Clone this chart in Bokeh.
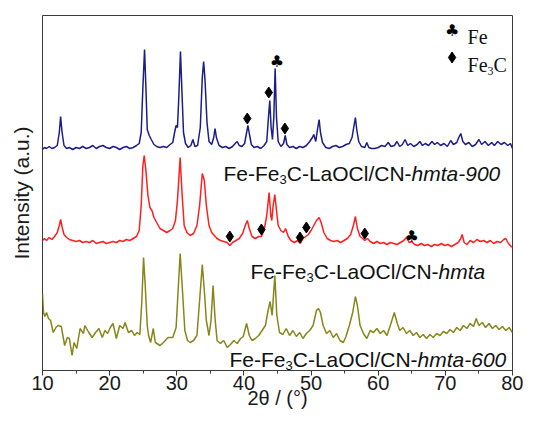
from bokeh.plotting import figure
from bokeh.models import Label, SingleIntervalTicker, FixedTicker, Range1d
from bokeh.core.properties import value
from bokeh.embed import file_html
from bokeh.resources import INLINE

# ---------------- data (2theta, intensity a.u. with vertical stacking offset) ----------------
pattern_900 = [
    (10.0, 228), (10.3, 230), (10.6, 229), (11.0, 231), (11.4, 229), (11.8, 230), (12.2, 232),
    (12.5, 245), (12.7, 261), (12.9, 246), (13.2, 232), (13.6, 229), (14.0, 230), (14.5, 228),
    (15.0, 230), (15.5, 229), (16.0, 231), (16.5, 229), (17.0, 230), (17.5, 232), (18.0, 229),
    (18.5, 231), (19.0, 232), (19.5, 230), (20.0, 229), (20.5, 231), (21.0, 230), (21.5, 228),
    (22.0, 230), (22.5, 231), (23.0, 229), (23.5, 230), (24.0, 232), (24.4, 234), (24.7, 245),
    (24.95, 290), (25.2, 328), (25.4, 290), (25.6, 248), (25.9, 242), (26.2, 238), (26.6, 233),
    (27.0, 231), (27.5, 230), (28.0, 231), (28.5, 230), (29.0, 233), (29.4, 235), (29.7, 246),
    (29.9, 252), (30.1, 250), (30.3, 280), (30.55, 326), (30.8, 280), (31.0, 245), (31.3, 234),
    (31.7, 230), (32.1, 232), (32.4, 238), (32.7, 231), (33.1, 232), (33.5, 250), (33.8, 300),
    (34.0, 316), (34.2, 298), (34.5, 255), (34.8, 236), (35.2, 233), (35.5, 240), (35.7, 249),
    (35.9, 240), (36.3, 232), (36.8, 230), (37.3, 231), (37.8, 229), (38.3, 231), (38.7, 234),
    (39.0, 236), (39.3, 232), (39.7, 231), (40.1, 234), (40.4, 245), (40.6, 252), (40.8, 244),
    (41.1, 233), (41.5, 230), (42.0, 231), (42.5, 229), (43.0, 232), (43.4, 236), (43.65, 260),
    (43.85, 277), (44.05, 250), (44.25, 238), (44.45, 260), (44.65, 309), (44.85, 260),
    (45.1, 236), (45.5, 231), (45.9, 234), (46.15, 242), (46.4, 233), (46.8, 230), (47.3, 231),
    (47.8, 229), (48.3, 231), (48.8, 230), (49.3, 232), (49.8, 236), (50.2, 240), (50.4, 243),
    (50.7, 236), (51.0, 250), (51.2, 258), (51.4, 245), (51.7, 235), (52.2, 230), (52.7, 229),
    (53.2, 231), (53.7, 232), (54.2, 230), (54.7, 231), (55.2, 233), (55.7, 234), (56.1, 240),
    (56.4, 252), (56.6, 260), (56.8, 248), (57.1, 236), (57.5, 231), (58.0, 230), (58.3, 235),
    (58.6, 230), (59.0, 229), (59.5, 229), (60.0, 230), (60.5, 232), (61.0, 231), (61.5, 235),
    (61.9, 231), (62.4, 232), (62.8, 236), (63.2, 231), (63.6, 233), (64.0, 238), (64.4, 232),
    (64.8, 234), (65.3, 231), (65.8, 233), (66.2, 236), (66.6, 232), (67.0, 234), (67.5, 232),
    (68.0, 236), (68.4, 233), (68.8, 235), (69.3, 232), (69.8, 234), (70.3, 231), (70.8, 237),
    (71.2, 233), (71.7, 235), (72.0, 240), (72.3, 244), (72.6, 236), (73.0, 233), (73.5, 235),
    (74.0, 231), (74.5, 233), (75.0, 238), (75.4, 233), (75.9, 236), (76.4, 232), (76.9, 235),
    (77.3, 232), (77.8, 236), (78.3, 233), (78.8, 235), (79.3, 232), (79.7, 234), (80.0, 229),
]

pattern_hmta = [
    (10.0, 137), (10.3, 139), (10.6, 137), (11.0, 140), (11.4, 138), (11.8, 141), (12.2, 145),
    (12.5, 152), (12.7, 158), (12.9, 151), (13.2, 143), (13.6, 140), (14.0, 138), (14.5, 137),
    (15.0, 136), (15.5, 137), (16.0, 135), (16.5, 136), (17.0, 135), (17.5, 137), (18.0, 134),
    (18.5, 135), (19.0, 136), (19.5, 134), (20.0, 135), (20.5, 136), (21.0, 135), (21.5, 137),
    (22.0, 136), (22.5, 138), (23.0, 137), (23.5, 139), (24.0, 141), (24.4, 147), (24.7, 172),
    (24.95, 212), (25.15, 222), (25.4, 207), (25.7, 182), (26.0, 170), (26.3, 167), (26.6, 160),
    (27.0, 155), (27.5, 149), (28.0, 147), (28.5, 145), (29.0, 147), (29.4, 149), (29.8, 157),
    (30.1, 177), (30.5, 220), (30.8, 182), (31.1, 152), (31.5, 145), (32.0, 142), (32.5, 144),
    (33.0, 152), (33.4, 172), (33.8, 204), (34.1, 197), (34.4, 172), (34.8, 152), (35.2, 145),
    (35.6, 142), (36.0, 139), (36.5, 137), (37.0, 136), (37.5, 135), (37.9, 132), (38.3, 135),
    (38.8, 137), (39.3, 139), (39.8, 144), (40.2, 152), (40.5, 157), (40.8, 149), (41.2, 141),
    (41.7, 139), (42.2, 141), (42.6, 141), (43.0, 147), (43.4, 162), (43.75, 185), (44.0, 162),
    (44.15, 157), (44.35, 172), (44.6, 183), (44.85, 167), (45.1, 152), (45.5, 147), (45.9, 145),
    (46.2, 149), (46.6, 141), (47.0, 137), (47.5, 135), (48.0, 137), (48.4, 134), (48.8, 139),
    (49.2, 141), (49.6, 143), (50.0, 147), (50.4, 152), (50.8, 157), (51.2, 160), (51.5, 155),
    (51.9, 145), (52.4, 139), (52.9, 137), (53.4, 136), (53.9, 137), (54.4, 135), (54.9, 137),
    (55.4, 139), (55.9, 143), (56.3, 152), (56.6, 161), (56.9, 149), (57.3, 141), (57.7, 139),
    (58.0, 137), (58.4, 139), (58.8, 136), (59.3, 134), (59.8, 136), (60.3, 134), (60.8, 135),
    (61.3, 133), (61.8, 135), (62.3, 134), (62.8, 133), (63.3, 135), (63.8, 137), (64.2, 140),
    (64.6, 135), (65.0, 136), (65.4, 133), (65.9, 132), (66.4, 134), (66.9, 132), (67.4, 133),
    (67.9, 131), (68.4, 133), (68.9, 132), (69.4, 134), (69.9, 132), (70.4, 133), (70.9, 131),
    (71.4, 133), (71.9, 135), (72.3, 139), (72.5, 143), (72.8, 135), (73.2, 133), (73.7, 137),
    (74.2, 135), (74.7, 138), (75.2, 136), (75.7, 137), (76.2, 135), (76.7, 137), (77.2, 134),
    (77.7, 136), (78.2, 135), (78.7, 138), (79.0, 139), (79.4, 134), (79.8, 131), (80.0, 130),
]

pattern_600 = [
    (10.0, 84), (10.15, 65), (10.35, 61), (10.6, 65), (10.9, 59), (11.2, 57), (11.6, 45),
    (12.0, 50), (12.3, 52), (12.8, 51), (13.3, 32), (13.7, 40), (14.0, 39), (14.4, 22),
    (14.7, 35), (15.1, 29), (15.6, 49), (16.1, 44), (16.3, 52), (16.9, 45), (17.4, 40),
    (17.9, 45), (18.4, 49), (18.9, 40), (19.3, 47), (19.7, 44), (20.1, 50), (20.5, 54),
    (21.0, 39), (21.5, 52), (22.0, 49), (22.3, 55), (22.8, 45), (23.3, 47), (23.7, 42),
    (24.1, 45), (24.5, 43), (24.8, 77), (25.05, 120), (25.3, 92), (25.6, 52), (25.8, 42),
    (26.1, 35), (26.5, 49), (26.8, 35), (27.5, 32), (28.0, 35), (28.7, 40), (29.4, 40),
    (29.9, 50), (30.2, 87), (30.5, 124), (30.8, 92), (31.2, 47), (31.6, 37), (32.0, 35),
    (32.5, 37), (33.0, 42), (33.4, 77), (33.8, 113), (34.1, 87), (34.4, 57), (34.8, 42),
    (35.1, 57), (35.4, 92), (35.7, 59), (36.0, 37), (36.5, 34), (37.0, 37), (37.5, 30),
    (38.0, 33), (38.5, 37), (39.0, 34), (39.5, 39), (39.9, 41), (40.4, 54), (40.8, 42),
    (41.2, 37), (41.7, 39), (42.2, 42), (42.7, 47), (43.2, 52), (43.6, 67), (43.9, 76),
    (44.2, 62), (44.6, 102), (44.9, 62), (45.3, 45), (45.8, 43), (46.3, 49), (46.8, 42),
    (47.3, 47), (47.8, 41), (48.3, 45), (48.8, 39), (49.3, 44), (49.8, 47), (50.3, 52),
    (50.8, 67), (51.1, 69), (51.4, 65), (51.8, 52), (52.3, 44), (52.8, 47), (53.3, 40),
    (53.8, 44), (54.3, 37), (54.8, 35), (55.2, 41), (55.7, 52), (56.2, 65), (56.6, 81),
    (56.9, 72), (57.3, 52), (57.8, 44), (58.3, 39), (58.8, 47), (59.3, 45), (59.8, 49),
    (60.3, 44), (60.8, 47), (61.3, 42), (61.8, 52), (62.4, 65), (62.8, 55), (63.2, 47),
    (63.7, 50), (64.2, 44), (64.7, 47), (65.2, 42), (65.7, 45), (66.2, 40), (66.7, 43),
    (67.2, 39), (67.7, 43), (68.2, 40), (68.7, 44), (69.2, 42), (69.7, 46), (70.2, 44),
    (70.7, 48), (71.2, 45), (71.7, 50), (72.2, 47), (72.7, 52), (73.2, 49), (73.7, 54),
    (74.2, 51), (74.6, 59), (75.0, 52), (75.5, 55), (76.0, 50), (76.5, 54), (77.0, 49),
    (77.5, 52), (78.0, 48), (78.5, 51), (79.0, 47), (79.5, 50), (80.0, 45),
]

# phase markers (2theta, height)
fe3c_marks = [(40.5, 259), (43.7, 285), (46.1, 249),
              (37.9, 141), (42.6, 148), (48.35, 140), (49.3, 150), (58.0, 144)]
fe_marks = [(44.9, 316), (65.0, 141)]

# sample labels (start 2theta, baseline height, parts)
sample_labels = [
    (36.96, 204, [("Fe-Fe", "n"), ("3", "s"), ("C-LaOCl/CN-", "n"), ("hmta-900", "i")]),
    (40.98, 106, [("Fe-Fe", "n"), ("3", "s"), ("C-LaOCl/CN-", "n"), ("hmta", "i")]),
    (37.85, 18, [("Fe-Fe", "n"), ("3", "s"), ("C-LaOCl/CN-", "n"), ("hmta-600", "i")]),
]

x_ticks_interval = 10
x_label = "2\u03b8 / (\u00b0)"
y_label = "Intensity (a.u.)"

BLUE = "#1c1c8a"
RED = "#ff1f1f"
OLIVE = "#86861a"

# --------------------------------------------------------------------------------------------
p = figure(width=523, height=414, x_range=Range1d(10, 80), y_range=Range1d(7, 362),
           output_backend="svg", toolbar_location=None,
           min_border_left=42, min_border_right=11, min_border_top=15, min_border_bottom=44)
p.xgrid.visible = False
p.ygrid.visible = False
p.outline_line_color = "#3a3a3a"
p.outline_line_width = 1
p.background_fill_color = "white"
p.border_fill_color = "white"

ax = p.xaxis[0]
ax.ticker = SingleIntervalTicker(interval=x_ticks_interval, num_minor_ticks=2)
ax.major_tick_in = 0
ax.major_tick_out = 5
ax.minor_tick_in = 0
ax.minor_tick_out = 3
ax.axis_line_color = "#3a3a3a"
ax.major_tick_line_color = "#3a3a3a"
ax.minor_tick_line_color = "#3a3a3a"
ax.major_label_text_font = "Liberation Sans"
ax.major_label_text_font_size = "20px"
ax.major_label_text_color = "#1a1a1a"
ax.major_label_standoff = 0
ax.axis_label = x_label
ax.axis_label_text_font = "Liberation Sans"
ax.axis_label_text_font_size = "20px"
ax.axis_label_text_font_style = "normal"
ax.axis_label_text_color = "#1a1a1a"
ax.axis_label_standoff = -6

ay = p.yaxis[0]
ay.ticker = FixedTicker(ticks=[])
ay.axis_line_color = None
ay.major_tick_line_color = None
ay.minor_tick_line_color = None
ay.major_tick_in = 0
ay.major_tick_out = 0
ay.minor_tick_in = 0
ay.minor_tick_out = 0
ay.major_label_standoff = 0
ay.axis_label = y_label
ay.axis_label_text_font = "Liberation Sans"
ay.axis_label_text_font_size = "21px"
ay.axis_label_text_font_style = "normal"
ay.axis_label_text_color = "#1a1a1a"
ay.axis_label_standoff = 10

for data, col in [(pattern_900, BLUE), (pattern_hmta, RED), (pattern_600, OLIVE)]:
    p.line([d[0] for d in data], [d[1] for d in data], line_color=col, line_width=1.5)

p.scatter([m[0] for m in fe3c_marks], [m[1] for m in fe3c_marks], marker="diamond",
          size=11, color="black")
p.text([m[0] for m in fe_marks], [m[1] for m in fe_marks], text=["\u2663"] * len(fe_marks),
       text_font=value("DejaVu Sans"), text_font_size="16px", text_align="center",
       text_baseline="middle", text_color="black")

# legend (top right)
p.text([71.0], [347], text=["\u2663"], text_font=value("DejaVu Sans"), text_font_size="16px",
       text_align="center", text_baseline="middle", text_color="black")
p.scatter([71.0], [320], marker="diamond", size=11, color="black")
LEG_X = 73.3
p.add_layout(Label(x=LEG_X, y=341, text="Fe", text_font="Liberation Serif",
                   text_font_size="20px", text_baseline="alphabetic", text_color="#111"))
p.add_layout(Label(x=LEG_X, y=313, text="Fe", text_font="Liberation Serif",
                   text_font_size="20px", text_baseline="alphabetic", text_color="#111"))
p.add_layout(Label(x=LEG_X, y=313, x_offset=20, y_offset=-6, text="3", text_font="Liberation Serif",
                   text_font_size="12px", text_baseline="alphabetic", text_color="#111"))
p.add_layout(Label(x=LEG_X, y=313, x_offset=26, text="C", text_font="Liberation Serif",
                   text_font_size="20px", text_baseline="alphabetic", text_color="#111"))

# composite sample labels (Arial-metric advance widths, per 1000 em)
ADV = {'F': 611, 'e': 556, '-': 333, '3': 556, 'C': 722, 'L': 556, 'a': 556, 'O': 778,
       'l': 222, '/': 278, 'N': 722, 'h': 556, 'm': 833, 't': 278, '9': 556, '0': 556, '6': 556}
S_MAIN = 21
S_SUB = 13

def text_w(s, size):
    return sum(ADV.get(c, 556) for c in s) / 1000.0 * size

for x0, y0, parts in sample_labels:
    off = 0.0
    for txt, st in parts:
        size = S_SUB if st == "s" else S_MAIN
        p.add_layout(Label(x=x0, y=y0, x_offset=off, y_offset=(-6 if st == "s" else 0),
                           text=txt, text_font="Liberation Sans", text_font_size=f"{size}px",
                           text_font_style=("italic" if st == "i" else "normal"),
                           text_baseline="alphabetic", text_align="left", text_color="#111"))
        off += text_w(txt, size)

open("out.html", "w").write(file_html(p, INLINE))
